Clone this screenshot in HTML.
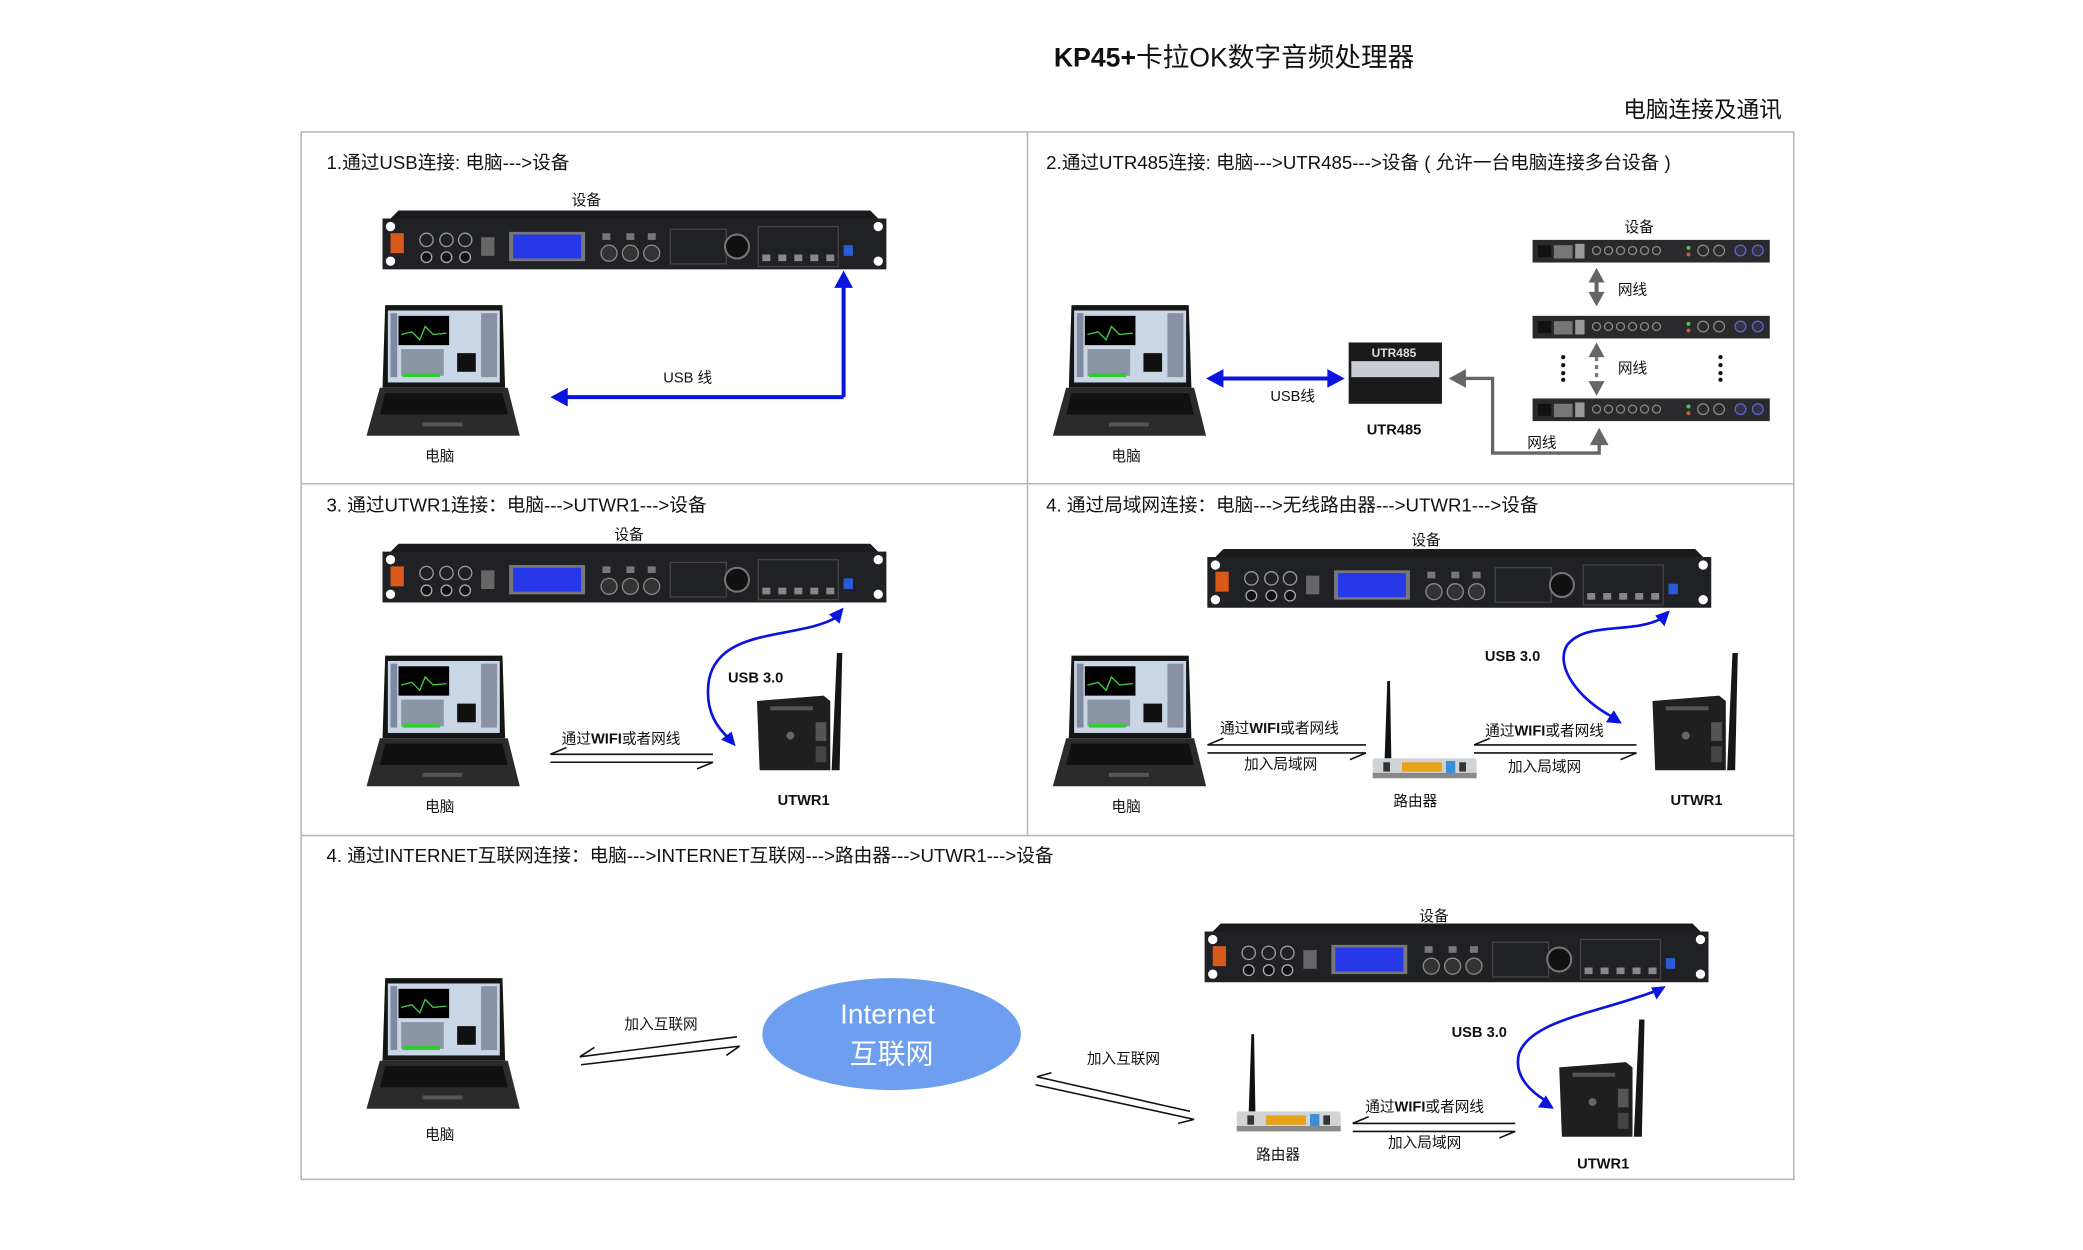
<!DOCTYPE html>
<html><head><meta charset="utf-8"><style>
html,body{margin:0;padding:0;background:#fff;width:2083px;height:1250px;overflow:hidden}
svg{display:block}
text{font-family:"Liberation Sans","Noto Sans CJK SC",sans-serif;fill:#111}
.t{font-size:14px}.s{font-size:11px}.b{font-weight:bold}
</style></head><body>
<svg width="2083" height="1250" viewBox="0 0 1563 938" xmlns="http://www.w3.org/2000/svg">
<defs>
<marker id="ab" markerWidth="6" markerHeight="6" refX="4" refY="3" orient="auto" markerUnits="strokeWidth"><path d="M0,0 L5,3 L0,6 z" fill="#0a14e0"/></marker>
<marker id="ag" markerWidth="5" markerHeight="5" refX="3" refY="2.5" orient="auto" markerUnits="strokeWidth"><path d="M0,0 L4,2.5 L0,5 z" fill="#666"/></marker>
<g id="rack">
 <path d="M12,0 L366,0 L372,6 L378,6 L378,44 L0,44 L0,6 L6,6 z" fill="#1b1b1d"/>
 <rect x="0" y="6" width="378" height="38" fill="#202124"/>
 <circle cx="6" cy="12" r="3.5" fill="#fff"/><circle cx="6" cy="38" r="3.5" fill="#fff"/>
 <circle cx="372" cy="12" r="3.5" fill="#fff"/><circle cx="372" cy="38" r="3.5" fill="#fff"/>
 <rect x="6" y="17" width="10" height="15" fill="#d85a1a"/>
 <circle cx="33" cy="22" r="5" fill="none" stroke="#999"/><circle cx="48" cy="22" r="5" fill="none" stroke="#999"/><circle cx="62" cy="22" r="5" fill="none" stroke="#999"/>
 <circle cx="33" cy="35" r="4" fill="#111" stroke="#aaa"/><circle cx="48" cy="35" r="4" fill="#111" stroke="#aaa"/><circle cx="62" cy="35" r="4" fill="#111" stroke="#aaa"/>
 <rect x="74" y="20" width="10" height="14" fill="#666"/>
 <rect x="95" y="16" width="57" height="22" fill="#777"/><rect x="98" y="18" width="51" height="18" fill="#2738e8"/>
 <circle cx="170" cy="32" r="6" fill="#333" stroke="#888"/><circle cx="186" cy="32" r="6" fill="#333" stroke="#888"/><circle cx="202" cy="32" r="6" fill="#333" stroke="#888"/>
 <rect x="165" y="17" width="6" height="5" fill="#777"/><rect x="183" y="17" width="6" height="5" fill="#777"/><rect x="199" y="17" width="6" height="5" fill="#777"/>
 <rect x="216" y="14" width="42" height="26" fill="none" stroke="#444"/>
 <circle cx="266" cy="27" r="9" fill="#111" stroke="#777" stroke-width="1.5"/>
 <rect x="282" y="12" width="60" height="30" fill="none" stroke="#444"/>
 <g fill="#888"><rect x="285" y="33" width="6" height="5"/><rect x="297" y="33" width="6" height="5"/><rect x="309" y="33" width="6" height="5"/><rect x="321" y="33" width="6" height="5"/><rect x="333" y="33" width="6" height="5"/></g>
 <rect x="346" y="26" width="7" height="8" fill="#2a5bd8"/>
</g>
<g id="rear">
 <rect x="0" y="0" width="178" height="17" fill="#2a2a2c"/>
 <rect x="4" y="4" width="10" height="9" fill="#111"/><rect x="16" y="4" width="14" height="10" fill="#777"/>
 <rect x="32" y="3" width="7" height="11" fill="#999"/>
 <g fill="none" stroke="#888"><circle cx="48" cy="8" r="3"/><circle cx="57" cy="8" r="3"/><circle cx="66" cy="8" r="3"/><circle cx="75" cy="8" r="3"/><circle cx="84" cy="8" r="3"/><circle cx="93" cy="8" r="3"/><circle cx="128" cy="8" r="4"/><circle cx="140" cy="8" r="4"/></g>
 <circle cx="117" cy="6" r="1.5" fill="#4c4"/><circle cx="117" cy="11" r="1.5" fill="#c54"/>
 <circle cx="156" cy="8" r="4" fill="#334" stroke="#56c"/><circle cx="169" cy="8" r="4" fill="#334" stroke="#56c"/>
</g>
<g id="laptop">
 <path d="M14,0 L102,0 L104,62 L12,62 z" fill="#151515"/>
 <rect x="16" y="4" width="84" height="54" fill="#c9d6e6"/>
 <rect x="24" y="8" width="38" height="22" fill="#000"/>
 <path d="M26,22 L34,20 L40,26 L44,16 L50,22 L60,21" stroke="#4c4" fill="none"/>
 <rect x="26" y="33" width="32" height="20" fill="#8a95a6"/><rect x="27" y="51" width="28" height="3" fill="#3c3"/>
 <rect x="68" y="36" width="14" height="14" fill="#111"/><rect x="18" y="6" width="5" height="48" fill="#7d8aa0"/><rect x="86" y="6" width="12" height="48" fill="#8892a4"/>
 <path d="M10,62 L106,62 L115,98 L0,98 z" fill="#2b2b2b"/>
 <path d="M14,66 L102,66 L106,82 L10,82 z" fill="#111"/>
 <rect x="42" y="88" width="30" height="3" fill="#555"/>
</g>
<g id="utwr">
 <path d="M0,4 L50,0 L55,4 L55,56 L2,56 z" fill="#1f1f1f"/>
 <rect x="10" y="8" width="32" height="3" fill="#555"/><rect x="44" y="20" width="8" height="14" fill="#555"/><rect x="44" y="38" width="8" height="12" fill="#444"/>
 <circle cx="25" cy="30" r="3" fill="#666"/>
 <path d="M56,56 L60,-32 L64,-32 L62,56 z" fill="#161616"/>
</g>
<g id="router">
 <rect x="0" y="0" width="78" height="14" rx="2" fill="#cfd3d6"/>
 <rect x="0" y="11" width="78" height="4" fill="#888"/>
 <rect x="22" y="3" width="30" height="7" fill="#e8a21a"/><rect x="55" y="2" width="7" height="9" fill="#3b8ed8"/>
 <rect x="8" y="3" width="5" height="7" fill="#333"/><rect x="65" y="3" width="5" height="7" fill="#333"/>
 <path d="M9,0 L11,-58 L13,-58 L14,0 z" fill="#111"/>
</g>
</defs>

<!-- titles -->
<text x="926" y="50" text-anchor="middle" style="font-size:20px"><tspan class="b">KP45+</tspan>卡拉OK数字音频处理器</text>
<text x="1337" y="88" text-anchor="end" style="font-size:17px">电脑连接及通讯</text>

<!-- frame -->
<g stroke="#b8b8b8" stroke-width="1.2" fill="none">
<rect x="226" y="99" width="1120" height="786"/>
<line x1="226" y1="363" x2="1346" y2="363"/><line x1="226" y1="627" x2="1346" y2="627"/>
<line x1="771" y1="99" x2="771" y2="627"/>
</g>

<!-- Panel 1 -->
<text x="245" y="127" class="t">1.通过USB连接:   电脑---&gt;设备</text>
<text x="440" y="154" class="s" text-anchor="middle">设备</text>
<use href="#rack" x="287" y="158"/>
<use href="#laptop" x="275" y="229"/>
<text x="330" y="346" class="s" text-anchor="middle">电脑</text>
<path d="M633,298 L633,214 M633,298 L425,298" stroke="#0a14e0" stroke-width="3" fill="none"/>
<path d="M633,203 L626,216 L640,216 z M413,298 L426,291 L426,305 z" fill="#0a14e0"/>
<text x="516" y="287" class="s" text-anchor="middle">USB  线</text>

<!-- Panel 2 -->
<text x="785" y="127" class="t">2.通过UTR485连接:  电脑---&gt;UTR485---&gt;设备 ( 允许一台电脑连接多台设备 )</text>
<text x="1230" y="174" class="s" text-anchor="middle">设备</text>
<use href="#rear" x="1150" y="180"/><use href="#rear" x="1150" y="237"/><use href="#rear" x="1150" y="299"/>
<path d="M1198,201 L1192,212 L1204,212 z M1198,230 L1192,219 L1204,219 z" fill="#666"/>
<line x1="1198" y1="210" x2="1198" y2="221" stroke="#666" stroke-width="3"/>
<text x="1225" y="221" class="s" text-anchor="middle">网线</text>
<path d="M1198,257 L1192,268 L1204,268 z M1198,297 L1192,286 L1204,286 z" fill="#666"/>
<line x1="1198" y1="268" x2="1198" y2="286" stroke="#777" stroke-width="2.5" stroke-dasharray="3,3"/>
<text x="1225" y="280" class="s" text-anchor="middle">网线</text>
<g fill="#111"><circle cx="1173" cy="268" r="1.6"/><circle cx="1173" cy="274" r="1.6"/><circle cx="1173" cy="280" r="1.6"/><circle cx="1173" cy="285" r="1.6"/>
<circle cx="1291" cy="268" r="1.6"/><circle cx="1291" cy="274" r="1.6"/><circle cx="1291" cy="280" r="1.6"/><circle cx="1291" cy="285" r="1.6"/></g>
<use href="#laptop" x="790" y="229"/>
<text x="845" y="346" class="s" text-anchor="middle">电脑</text>
<line x1="916" y1="284" x2="998" y2="284" stroke="#0a14e0" stroke-width="3"/>
<path d="M905,284 L918,277 L918,291 z M1009,284 L996,277 L996,291 z" fill="#0a14e0"/>
<text x="970" y="301" class="s" text-anchor="middle">USB线</text>
<rect x="1012" y="257" width="70" height="46" fill="#1a1a1a"/>
<rect x="1014" y="271" width="66" height="12" fill="#c8ccd4"/>
<text x="1046" y="268" text-anchor="middle" style="font-size:9px;fill:#ddd" class="b">UTR485</text>
<text x="1046" y="326" class="s b" text-anchor="middle">UTR485</text>
<path d="M1098,284 L1120,284 L1120,340 L1200,340 L1200,332" stroke="#666" stroke-width="2.5" fill="none"/>
<path d="M1087,284 L1100,277 L1100,291 z M1200,321 L1193,334 L1207,334 z" fill="#666"/>
<text x="1157" y="336" class="s" text-anchor="middle">网线</text>

<!-- Panel 3 -->
<text x="245" y="384" class="t">3. 通过UTWR1连接：电脑---&gt;UTWR1---&gt;设备</text>
<text x="472" y="405" class="s" text-anchor="middle">设备</text>
<use href="#rack" x="287" y="408"/>
<use href="#laptop" x="275" y="492"/>
<text x="330" y="609" class="s" text-anchor="middle">电脑</text>
<path d="M628,463 C600,480 540,470 532,510 C528,535 540,548 548,555" stroke="#0a14e0" stroke-width="2" fill="none"/>
<path d="M633,456 L622,461 L630,468 z M552,560 L541,555 L549,549 z" fill="#0a14e0"/>
<text x="567" y="512" class="s b" text-anchor="middle">USB 3.0</text>
<use href="#utwr" x="568" y="522"/>
<text x="603" y="604" class="s b" text-anchor="middle">UTWR1</text>
<text x="466" y="558" class="s" text-anchor="middle">通过<tspan class="b">WIFI</tspan>或者网线</text>
<path d="M413,566 L535,566 M413,566 L425,561 M413,572 L535,572 L523,577" stroke="#111" stroke-width="1.2" fill="none"/>

<!-- Panel 4 -->
<text x="785" y="384" class="t">4. 通过局域网连接：电脑---&gt;无线路由器---&gt;UTWR1---&gt;设备</text>
<text x="1070" y="409" class="s" text-anchor="middle">设备</text>
<use href="#rack" x="906" y="412"/>
<use href="#laptop" x="790" y="492"/>
<text x="845" y="609" class="s" text-anchor="middle">电脑</text>
<use href="#router" x="1030" y="569"/>
<text x="1062" y="605" class="s" text-anchor="middle">路由器</text>
<text x="960" y="550" class="s" text-anchor="middle">通过<tspan class="b">WIFI</tspan>或者网线</text>
<text x="961" y="577" class="s" text-anchor="middle">加入局域网</text>
<path d="M906,559 L1025,559 M906,559 L918,554 M906,565 L1025,565 L1013,570" stroke="#111" stroke-width="1.2" fill="none"/>
<text x="1159" y="552" class="s" text-anchor="middle">通过<tspan class="b">WIFI</tspan>或者网线</text>
<text x="1159" y="579" class="s" text-anchor="middle">加入局域网</text>
<path d="M1106,559 L1228,559 M1106,559 L1118,554 M1106,565 L1228,565 L1216,570" stroke="#111" stroke-width="1.2" fill="none"/>
<text x="1135" y="496" class="s b" text-anchor="middle">USB 3.0</text>
<path d="M1247,464 C1225,476 1190,466 1176,484 C1166,500 1185,525 1210,538" stroke="#0a14e0" stroke-width="2" fill="none"/>
<path d="M1253,458 L1242,462 L1249,470 z M1217,543 L1205,542 L1211,533 z" fill="#0a14e0"/>
<use href="#utwr" x="1240" y="522"/>
<text x="1273" y="604" class="s b" text-anchor="middle">UTWR1</text>

<!-- Panel 5 -->
<text x="245" y="647" class="t">4. 通过INTERNET互联网连接：电脑---&gt;INTERNET互联网---&gt;路由器---&gt;UTWR1---&gt;设备</text>
<text x="1076" y="691" class="s" text-anchor="middle">设备</text>
<use href="#rack" x="904" y="693"/>
<use href="#laptop" x="275" y="734"/>
<text x="330" y="855" class="s" text-anchor="middle">电脑</text>
<ellipse cx="669" cy="776" rx="97" ry="42" fill="#6d9eef"/>
<text x="666" y="768" text-anchor="middle" style="font-size:21px;fill:#fff">Internet</text>
<text x="669" y="798" text-anchor="middle" style="font-size:21px;fill:#fff">互联网</text>
<text x="496" y="772" class="s" text-anchor="middle">加入互联网</text>
<path d="M435,793 L553,778 M435,793 L446,786 M436,799 L555,785 L545,792" stroke="#111" stroke-width="1.2" fill="none"/>
<text x="843" y="798" class="s" text-anchor="middle">加入互联网</text>
<path d="M778,808 L893,834 M778,808 L789,805 M777,814 L896,840 L884,843" stroke="#111" stroke-width="1.2" fill="none"/>
<use href="#router" x="928" y="834"/>
<text x="959" y="870" class="s" text-anchor="middle">路由器</text>
<text x="1069" y="834" class="s" text-anchor="middle">通过<tspan class="b">WIFI</tspan>或者网线</text>
<text x="1069" y="861" class="s" text-anchor="middle">加入局域网</text>
<path d="M1015,843 L1137,843 M1015,843 L1027,838 M1015,849 L1137,849 L1125,854" stroke="#111" stroke-width="1.2" fill="none"/>
<text x="1110" y="778" class="s b" text-anchor="middle">USB 3.0</text>
<path d="M1244,743 C1200,760 1150,765 1140,790 C1135,808 1150,820 1160,826" stroke="#0a14e0" stroke-width="2" fill="none"/>
<path d="M1250,740 L1239,741 L1243,750 z M1166,832 L1154,831 L1160,822 z" fill="#0a14e0"/>
<use href="#utwr" x="1170" y="797"/>
<text x="1203" y="877" class="s b" text-anchor="middle">UTWR1</text>
</svg>
</body></html>
